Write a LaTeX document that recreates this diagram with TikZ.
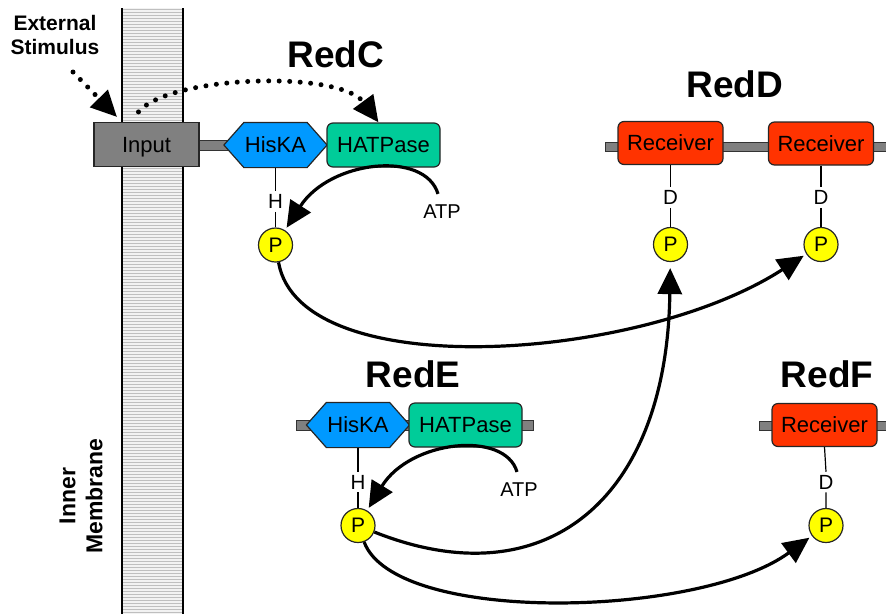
\documentclass[tikz,border=0pt]{standalone}
\usepackage{fontspec}
\setmainfont{Liberation Sans}
\usetikzlibrary{arrows.meta,calc}
\definecolor{boxgray}{HTML}{808080}
\definecolor{hisblue}{HTML}{0099FF}
\definecolor{atpgreen}{HTML}{00CC99}
\definecolor{recred}{HTML}{FF3300}
\definecolor{phosyellow}{HTML}{FFFF00}

\begin{document}
\begin{tikzpicture}[x=1pt,y=-1pt,
  protbox/.style={draw=black!85, line width=1.2pt, minimum height=44pt, inner sep=0pt,
                 font=\fontsize{22}{22}\selectfont},
  inputbox/.style={protbox, fill=boxgray, minimum width=105pt, text depth=0pt},
  hatpase/.style={protbox, fill=atpgreen, rounded corners=6pt, minimum width=113pt},
  receiver/.style={protbox, fill=recred, rounded corners=6pt, minimum width=105pt, minimum height=43pt},
  hiska/.style={protbox, draw=none, minimum width=102pt},
  hexfill/.style={draw=black!85, line width=1.2pt, fill=hisblue, line join=miter},
  linker/.style={draw=black!80, line width=1pt, fill=boxgray},
  phos/.style={circle, draw=black!85, line width=1.2pt, fill=phosyellow, minimum size=34pt,
               inner sep=0pt, font=\fontsize{21}{21}\selectfont},
  residue/.style={inner sep=3pt, font=\fontsize{20.5}{20.5}\selectfont},
  atp/.style={inner sep=1pt, font=\fontsize{20}{20}\selectfont},
  title/.style={anchor=base, font=\fontsize{37}{37}\selectfont\bfseries},
  stem/.style={line width=1.2pt},
  transfer/.style={line width=3.2pt, -{Triangle[length=26pt,width=24pt]}},
  stimulus/.style={line width=5pt, line cap=round, dash pattern=on 0pt off 10.5pt,
                   -{Triangle[length=26pt,width=24pt]}},
]
\useasboundingbox (0,0) rectangle (886,614);

% membrane with horizontal hatching
\fill[gray!10] (122,8) rectangle (183,614);
\foreach \yy in {9.5,12.5,...,613}
  \draw[gray!50, line width=0.7pt] (122,\yy) -- (183,\yy);
\draw[line width=1.5pt] (122,8) -- (122,614) (183,8) -- (183,614);

\node[rotate=90, align=center, font=\fontsize{23}{27}\selectfont\bfseries] (membrane) at (81,496) {Inner\\Membrane};
\node[align=center, font=\fontsize{21}{24}\selectfont\bfseries] (ext) at (55,35) {External\\Stimulus};

% ---------------- RedC ----------------
\node[title] (redC) at (336,67) {RedC};
\filldraw[linker] (199,140.5) rectangle (228,150.5);
\node[inputbox] (input) at (146.5,144.5) {Input};
\node[hiska] (hkC) at (275.5,145) {};
\filldraw[hexfill] (hkC.west) -- ($(hkC.north west)+(20,0)$) -- ($(hkC.north east)+(-20,0)$)
  -- (hkC.east) -- ($(hkC.south east)+(-20,0)$) -- ($(hkC.south west)+(20,0)$) -- cycle;
\node[font=\fontsize{22}{22}\selectfont] at (hkC) {HisKA};
\node[hatpase] (hatC) at (383.5,145) {HATPase};
\node[residue] (hC) at (275.5,201.5) {H};
\node[phos] (pC) at (275.5,245) {P};
\draw[stem] (hkC.south) -- (hC.north);
\draw[stem] (hC.south) -- (pC.north);
\node[atp] (atpC) at (442,212) {ATP};
\draw[transfer, shorten >=3pt] ([shift={(-4,-10)}]atpC.north) .. controls (425,150) and (330,160) .. (pC);

% stimulus signals
\coordinate (stimsrc) at (73,72);
\coordinate (stimtip) at (117,117);
\draw[stimulus] (stimsrc) -- (stimtip);
\draw[stimulus] ([shift={(-8,-10)}]input.north) .. controls (170,75) and (340,70) .. ([shift={(-5,0)}]hatC.north);

% ---------------- RedD ----------------
\node[title] (redD) at (735,97) {RedD};
\filldraw[linker] (605,142) rectangle (890,151.5);
\node[receiver] (rD1) at (670.5,143) {Receiver};
\node[receiver] (rD2) at (821,143.5) {Receiver};
\node[residue] (dD1) at (670.5,197.5) {D};
\node[residue] (dD2) at (821,197.5) {D};
\node[phos] (pD1) at (670.5,244.5) {P};
\node[phos] (pD2) at (821,244.5) {P};
\draw[stem] (rD1.south) -- (dD1.north) (dD1.south) -- (pD1.north);
\draw[stem] (rD2.south) -- (dD2.north) (dD2.south) -- (pD2.north);

% ---------------- RedE ----------------
\node[title] (redE) at (413,387) {RedE};
\filldraw[linker] (296,420) rectangle (533,430);
\node[hiska] (hkE) at (358,425) {};
\filldraw[hexfill] (hkE.west) -- ($(hkE.north west)+(20,0)$) -- ($(hkE.north east)+(-20,0)$)
  -- (hkE.east) -- ($(hkE.south east)+(-20,0)$) -- ($(hkE.south west)+(20,0)$) -- cycle;
\node[font=\fontsize{22}{22}\selectfont] at (hkE) {HisKA};
\node[hatpase] (hatE) at (465.5,425) {HATPase};
\node[residue] (hE) at (358,482) {H};
\node[phos] (pE) at (358,525.5) {P};
\draw[stem] (hkE.south) -- (hE.north) (hE.south) -- (pE.north);
\node[atp] (atpE) at (519,490) {ATP};
\draw[transfer, shorten >=3pt] ([shift={(-2,-10)}]atpE.north) .. controls (505,430) and (410,440) .. (pE);

% ---------------- RedF ----------------
\node[title] (redF) at (827,387) {RedF};
\filldraw[linker] (759,421) rectangle (890,430);
\node[receiver] (rF) at (824.5,425) {Receiver};
\node[residue] (dF) at (826,482) {D};
\node[phos] (pF) at (826,525.5) {P};
\draw[stem] (rF.south) -- (dF.north) (dF.south) -- (pF.north);

% ---------------- phosphotransfer ----------------
\draw[transfer, shorten >=3pt] (pC) .. controls (300,385) and (640,362) .. (pD2);
\draw[transfer, shorten >=6pt] (pE) .. controls (545,600) and (667,500) .. (pD1);
\draw[transfer, shorten >=3pt] (pE) .. controls (395,625) and (700,618) .. (pF);
\end{tikzpicture}
\end{document}
